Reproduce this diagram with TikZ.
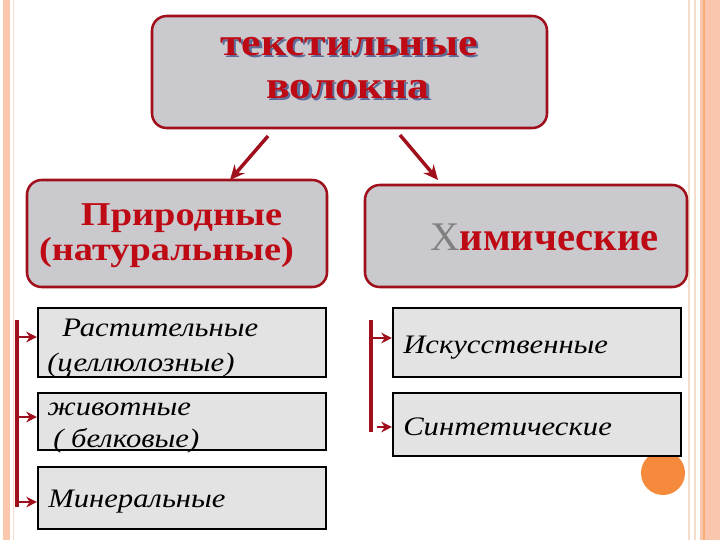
\documentclass[tikz,border=0pt]{standalone}
\usepackage{fontspec}
\setmainfont{Liberation Serif}
\newfontfamily\zagfont[FakeStretch=1.13]{Liberation Serif}
\newfontfamily\shirfont[FakeStretch=1.15]{Liberation Serif}
\newfontfamily\kursiv[FakeStretch=1.15]{Liberation Serif}
\usetikzlibrary{arrows.meta}
\definecolor{bordo}{HTML}{A0101C}
\definecolor{krasn}{HTML}{BE0A14}
\definecolor{seryj}{HTML}{C9C9CE}
\definecolor{svseryj}{HTML}{E3E3E3}
\definecolor{ten}{HTML}{5C6C98}
\definecolor{persik}{HTML}{FBC6AE}
\definecolor{oranzh}{HTML}{F58A3C}
\definecolor{svpersik}{HTML}{F6DCCB}
% текст с тенью
\newcommand\stenyu[1]{\makebox[0pt][l]{\hspace{1.8pt}\raisebox{-1.8pt}{\textcolor{ten}{#1}}}\textcolor{krasn}{#1}}
\begin{document}
\begin{tikzpicture}[x=0.75pt,y=-0.75pt,
	kruglbox/.style={draw=bordo, fill=seryj, line width=1.9pt, rounded corners=11pt, inner sep=0pt},
	pramoug/.style={draw=black, fill=svseryj, line width=1.6pt, inner sep=0pt, minimum width=216pt},
	tekst/.style={inner sep=0pt, anchor=base west},
	zag/.style={inner sep=0pt, anchor=base, font=\zagfont\bfseries\fontsize{29}{32}\selectfont},
	strelka/.style={-{Stealth[length=11pt,width=10pt]}, bordo, line width=2.6pt},
	malstr/.style={-{Stealth[length=8pt,width=8pt]}, bordo, line width=2pt},
	skobka/.style={bordo, line width=2.4pt}]
		\fill[white] (0,0) rectangle (720,540);
		\useasboundingbox (0,0) rectangle (720,540);
		% полосы по краям
		\fill[persik] (3,0) rectangle (10,540);
		\draw[svpersik, line width=1pt] (13.5,0) -- (13.5,540);
		\draw[svpersik, line width=1.2pt] (689,0) -- (689,540);
		\draw[svpersik, line width=1.2pt] (695,0) -- (695,540);
		\fill[persik] (700,0) rectangle (720,540);
		\draw[oranzh!70, line width=1pt] (704,0) -- (704,540);
		
		% Заголовок
		\node[kruglbox, minimum width=296.25pt, minimum height=84pt] (tv) at (349.5,72) {};
		\node[zag] (tv1) at (349,55) {\stenyu{текстильные}};
		\node[zag] (tv2) at (348,98) {\stenyu{волокна}};
		
		% Природные и химические
		\node[kruglbox, minimum width=225pt, minimum height=80.25pt] (prir) at (177,233.5) {};
		\node[inner sep=0pt, anchor=base, text=krasn, font=\shirfont\bfseries\fontsize{25}{28}\selectfont] (prir1) at (181.5,225) {Природные};
		\node[inner sep=0pt, anchor=base, text=krasn, font=\shirfont\bfseries\fontsize{25}{28}\selectfont] (prir2) at (166.5,260) {(натуральные)};
		\node[kruglbox, minimum width=241.5pt, minimum height=76.5pt] (him) at (526,236) {};
		\node[tekst, font=\fontsize{30.5}{34}\selectfont] (him1) at (430,250) {\textcolor{gray}{Х}\textcolor{krasn}{\bfseries имические}};
		
		\coordinate (s1) at (268,136);
		\coordinate (e1) at (230,180);
		\coordinate (s2) at (400,135);
		\coordinate (e2) at (438,180);
		\draw[strelka] (s1) -- (e1);
		\draw[strelka] (s2) -- (e2);
		
		% кружок
		\fill[oranzh] (663,473) circle [radius=16.5pt];
		
		% Левая колонка
		\node[pramoug, minimum height=51.75pt] (rast) at (182,342.5) {};
		\node[pramoug, minimum height=42.75pt] (zhiv) at (182,421.5) {};
		\node[pramoug, minimum height=46.5pt] (min) at (182,498) {};
		\node[tekst, font=\kursiv\itshape\fontsize{20}{24}\selectfont] (rast1) at (62,336) {Растительные};
		\node[tekst, font=\kursiv\itshape\fontsize{20}{24}\selectfont] (rast2) at (47,371) {(целлюлозные)};
		\node[tekst, font=\kursiv\itshape\fontsize{20}{24}\selectfont] (zhiv1) at (47,415) {животные};
		\node[tekst, font=\kursiv\itshape\fontsize{20}{24}\selectfont] (zhiv2) at (53,447) {( белковые)};
		\node[tekst, font=\kursiv\itshape\fontsize{20}{24}\selectfont] (min1) at (48,507) {Минеральные};
		
		\coordinate (lv1) at (17,320);
		\coordinate (lv2) at (17,507);
		\draw[skobka] (lv1) -- (lv2);
		\coordinate (p1) at (17,337);
		\coordinate (p2) at (17,417);
		\coordinate (p3) at (17,502);
		\draw[malstr] (p1) -- (p1 -| rast.west);
		\draw[malstr] (p2) -- (p2 -| zhiv.west);
		\draw[malstr] (p3) -- (p3 -| min.west);
		
		% Правая колонка
		\node[pramoug, minimum height=51.75pt] (isk) at (537,342.5) {};
		\node[pramoug, minimum height=47.25pt] (sint) at (537,424.5) {};
		\node[tekst, font=\kursiv\itshape\fontsize{20}{24}\selectfont] (isk1) at (403,353) {Искусственные};
		\node[tekst, font=\kursiv\itshape\fontsize{20}{24}\selectfont] (sint1) at (403,435) {Синтетические};
		
		\coordinate (pv1) at (371,320);
		\coordinate (pv2) at (371,432);
		\draw[skobka] (pv1) -- (pv2);
		\coordinate (q1) at (371,338);
		\coordinate (q2) at (377,427);
		\draw[malstr] (q1) -- (q1 -| isk.west);
		\draw[malstr] (q2) -- (q2 -| sint.west);
	\end{tikzpicture}
\end{document}
